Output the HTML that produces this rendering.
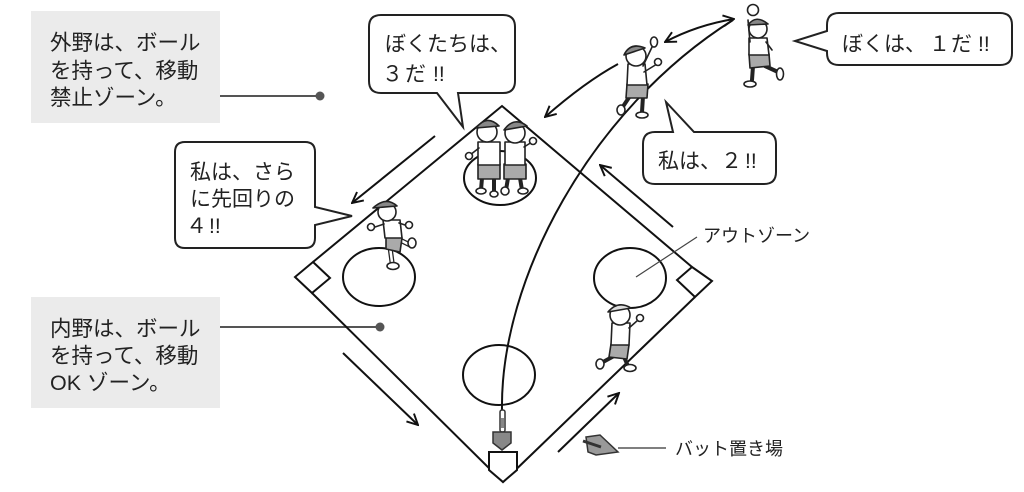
<!DOCTYPE html>
<html><head><meta charset="utf-8"><style>
html,body{margin:0;padding:0;background:#fff;}
svg{display:block;}
text{font-family:"Liberation Sans","Noto Sans CJK JP",sans-serif;fill:#222;}
</style></head><body>
<svg width="1024" height="492" viewBox="0 0 1024 492" xmlns="http://www.w3.org/2000/svg">
<defs>
<marker id="ah" viewBox="0 0 12 12" refX="11" refY="6" markerWidth="13" markerHeight="13" markerUnits="userSpaceOnUse" orient="auto-start-reverse">
<path d="M1,1 L11,6 L1,11" fill="none" stroke="#111" stroke-width="1.8"/>
</marker>
</defs>

<!-- gray boxes -->
<rect x="31" y="11" width="189" height="112" fill="#ebebeb"/>
<rect x="31" y="297" width="189" height="111" fill="#ebebeb"/>
<g font-size="21.5">
<text x="50" y="50">外野は、ボール</text>
<text x="50" y="78">を持って、移動</text>
<text x="50" y="105">禁止ゾーン。</text>
<text x="50" y="336">内野は、ボール</text>
<text x="50" y="363">を持って、移動</text>
<text x="50" y="390">OK ゾーン。</text>
</g>
<g stroke="#555" stroke-width="2">
<line x1="220" y1="96" x2="320" y2="96"/>
<line x1="220" y1="327" x2="380" y2="327"/>
</g>
<circle cx="320" cy="96" r="4.5" fill="#555"/>
<circle cx="380" cy="327" r="4.5" fill="#555"/>

<!-- diamond -->
<g fill="none" stroke="#111" stroke-width="2" stroke-linejoin="miter">
<path d="M313,262 L502,106 L692,267"/>
<path d="M312,293 L503,482 L695,297"/>
<path d="M313,262 L295,277 L312,293 L330,278 Z"/>
<path d="M692,267 L712,281 L695,297 L677,280 Z"/>
<path d="M489,452 L517,452 L517,470 L503,482 L489,470 Z" fill="#fff"/>
<ellipse cx="379" cy="277" rx="36" ry="29"/>
<ellipse cx="630" cy="278" rx="36" ry="30"/>
<ellipse cx="499" cy="375" rx="36" ry="30"/>
<ellipse cx="500" cy="178" rx="36" ry="27"/>
</g>

<!-- arrows -->
<g fill="none" stroke="#111" stroke-width="2">
<path d="M502,410 C500,280 590,110 733,20"/>
<line x1="435" y1="136" x2="352" y2="203" marker-end="url(#ah)"/>
<path d="M618,64 Q585,82 545,117" marker-end="url(#ah)"/>
<path d="M665,42 Q697,25 734,19" marker-end="url(#ah)" marker-start="url(#ah)"/>
<line x1="673" y1="227" x2="600" y2="165" marker-end="url(#ah)"/>
<line x1="343" y1="353" x2="418" y2="425" marker-end="url(#ah)"/>
<line x1="558" y1="452" x2="619" y2="393" marker-end="url(#ah)"/>
</g>

<!-- bat at home -->
<rect x="500" y="410" width="5" height="22" rx="2" fill="#fff" stroke="#333" stroke-width="1.5"/>
<rect x="501" y="418" width="3" height="10" fill="#888"/>
<path d="M493,432 L511,432 L511,443 L502,450 L493,443 Z" fill="#888" stroke="#333" stroke-width="1.5"/>

<!-- bat rack -->
<g stroke="#333" stroke-width="1.5">
<path d="M586,437 L600,435 L618,452 L596,455 L588,452 Z" fill="#999"/>
<line x1="583" y1="441" x2="601" y2="447" stroke-width="3"/>
</g>
<line x1="618" y1="448" x2="666" y2="448" stroke="#555" stroke-width="1.5"/>
<line x1="636" y1="277" x2="697" y2="237" stroke="#444" stroke-width="1.2"/>
<text x="703" y="242" font-size="18">アウトゾーン</text>
<text x="675" y="455" font-size="18">バット置き場</text>

<!-- kids -->
<g stroke="#222" stroke-width="1.6" stroke-linejoin="round" stroke-linecap="round">
<!-- kid at 3rd -->
<g>
<path d="M390,247 L392,262" fill="none" stroke-width="5"/>
<path d="M390,247 L392,262" fill="none" stroke="#fff" stroke-width="2.5"/>
<ellipse cx="393" cy="266" rx="6" ry="3.5" fill="#fff"/>
<path d="M400,240 L410,245" fill="none" stroke-width="5"/>
<path d="M400,240 L410,245" fill="none" stroke="#fff" stroke-width="2.5"/>
<ellipse cx="412" cy="243" rx="4" ry="5" fill="#fff"/>
<path d="M386,236 L402,238 L400,252 L386,249 Z" fill="#aaa"/>
<path d="M383,220 L400,220 L402,238 L385,238 Z" fill="#fff"/>
<path d="M384,224 L372,228" fill="none"/>
<circle cx="371" cy="227" r="3.5" fill="#fff"/>
<path d="M399,223 L408,226" fill="none"/>
<circle cx="409" cy="225" r="3.5" fill="#fff"/>
<circle cx="387" cy="212" r="9" fill="#fff"/>
<path d="M373,208 Q386,196 397,206 Z" fill="#888"/>
</g>
<!-- kids at 2nd -->
<g>
<path d="M482,178 L481,190 M494,178 L494,192 M508,178 L506,190 M520,178 L522,190" fill="none" stroke-width="4"/>
<ellipse cx="481" cy="191" rx="5" ry="3" fill="#fff"/>
<ellipse cx="494" cy="194" rx="4" ry="3" fill="#fff"/>
<ellipse cx="505" cy="191" rx="4" ry="4" fill="#fff"/>
<ellipse cx="523" cy="191" rx="5" ry="3" fill="#fff"/>
<rect x="478" y="164" width="22" height="15" fill="#aaa"/>
<rect x="504" y="164" width="22" height="15" fill="#aaa"/>
<rect x="478" y="142" width="22" height="23" fill="#fff"/>
<rect x="505" y="142" width="20" height="23" fill="#fff"/>
<path d="M479,148 L470,155" fill="none"/>
<circle cx="469" cy="156" r="3.5" fill="#fff"/>
<path d="M524,147 L532,142" fill="none"/>
<circle cx="533" cy="141" r="3.5" fill="#fff"/>
<circle cx="487" cy="132" r="10" fill="#fff"/>
<path d="M476,128 Q487,114 499,126 Z" fill="#888"/>
<circle cx="515" cy="133" r="10" fill="#fff"/>
<path d="M504,130 Q514,116 527,126 Z" fill="#888"/>
</g>
<!-- fielder kid 2 -->
<g>
<path d="M630,96 L622,108 M643,96 L642,112" fill="none" stroke-width="4"/>
<ellipse cx="621" cy="110" rx="4" ry="5" fill="#fff"/>
<ellipse cx="642" cy="115" rx="6" ry="3" fill="#fff"/>
<path d="M627,84 L648,84 L647,98 L626,98 Z" fill="#aaa"/>
<path d="M628,64 L645,64 L647,85 L627,85 Z" fill="#fff"/>
<path d="M643,66 L653,45 M644,72 L657,64" fill="none"/>
<ellipse cx="654" cy="42" rx="3.5" ry="5" fill="#fff"/>
<circle cx="658" cy="62" r="3.5" fill="#fff"/>
<circle cx="636" cy="56" r="10" fill="#fff"/>
<path d="M624,55 Q630,42 645,48 Z" fill="#888"/>
</g>
<!-- kid 1 -->
<g>
<path d="M753,66 L752,80 M765,66 L778,72" fill="none" stroke-width="4"/>
<ellipse cx="750" cy="84" rx="6" ry="3" fill="#fff"/>
<ellipse cx="780" cy="74" rx="3.5" ry="6" fill="#fff"/>
<path d="M749,54 L769,54 L770,66 L750,68 Z" fill="#aaa"/>
<path d="M749,38 L767,38 L769,55 L749,55 Z" fill="#fff"/>
<path d="M750,42 L748,20 M766,42 L772,50" fill="none"/>
<circle cx="753" cy="10" r="5.5" fill="#fff"/>
<circle cx="758" cy="29" r="9" fill="#fff"/>
<path d="M748,25 Q756,14 768,24 Z" fill="#888"/>
</g>
<!-- kid at 1st -->
<g>
<path d="M614,356 L603,362 M624,357 L628,366" fill="none" stroke-width="4"/>
<ellipse cx="600" cy="364" rx="4" ry="5" fill="#fff"/>
<ellipse cx="630" cy="368" rx="6" ry="3.5" fill="#fff"/>
<path d="M611,344 L629,345 L627,359 L609,357 Z" fill="#aaa"/>
<path d="M612,323 L630,323 L629,345 L611,345 Z" fill="#fff"/>
<path d="M629,328 L638,320" fill="none"/>
<circle cx="640" cy="318" r="3.5" fill="#fff"/>
<circle cx="620" cy="315" r="10" fill="#fff"/>
<path d="M608,312 Q618,300 631,308 Z" fill="#ddd"/>
</g>
</g>

<!-- speech bubbles -->
<g fill="#fff" stroke="#222" stroke-width="2" stroke-linejoin="miter">
<path d="M185,142 H305 Q315,142 315,152 V207 L352,216 L315,225 V238 Q315,248 305,248 H185 Q175,248 175,238 V152 Q175,142 185,142 Z"/>
<path d="M381,15 H503 Q515,15 515,27 V81 Q515,93 503,93 H458 L463,127 L437,93 H381 Q369,93 369,81 V27 Q369,15 381,15 Z"/>
<path d="M839,13 H1000 Q1012,13 1012,25 V53 Q1012,65 1000,65 H839 Q827,65 827,53 V51 L795,41 L827,31 V25 Q827,13 839,13 Z"/>
<path d="M655,132 H673 L666,102 L694,132 H764 Q776,132 776,144 V172 Q776,184 764,184 H655 Q643,184 643,172 V144 Q643,132 655,132 Z"/>
</g>
<g font-size="21">
<text x="190" y="179">私は、さら</text>
<text x="190" y="206">に先回りの</text>
<text x="186" y="233">４</text>
<text x="209" y="233">!!</text>
<text x="385" y="51">ぼくたちは、</text>
<text x="382" y="81">３</text>
<text x="405" y="81">だ</text>
<text x="433" y="81">!!</text>
<text x="842" y="51">ぼくは、</text>
<text x="929" y="51">１</text>
<text x="951" y="51">だ</text>
<text x="978" y="51">!!</text>
<text x="658" y="168">私は、</text>
<text x="721" y="168">２</text>
<text x="745" y="168">!!</text>
</g>
</svg>
</body></html>
